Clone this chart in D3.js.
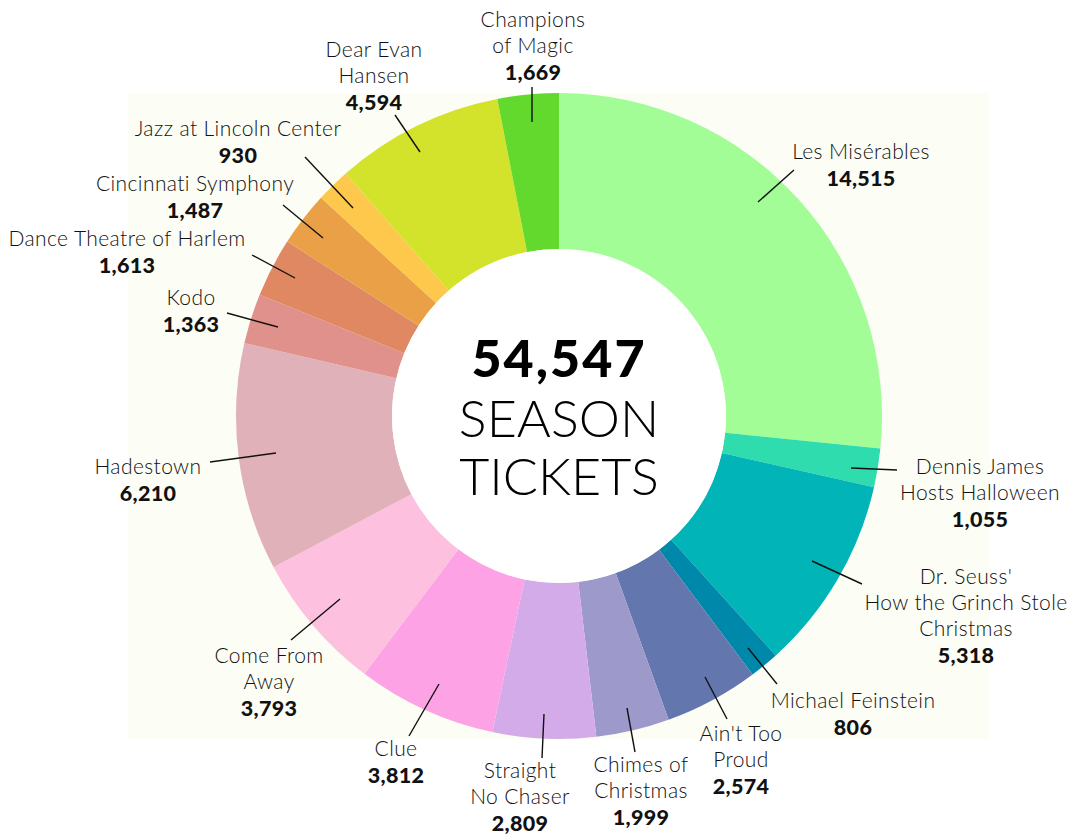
<!DOCTYPE html>
<html>
<head>
<meta charset="utf-8">
<script src="https://cdn.jsdelivr.net/npm/d3@7"></script>
<style>
  html, body { margin: 0; padding: 0; background: #fff; }
  svg { display: block; font-family: Lato, "Open Sans", sans-serif; }
</style>
</head>
<body>
<svg id="chart"></svg>
<script>
// Shows in clockwise order, starting at 12 o'clock
const shows = [
  "Les Misérables", "Dennis James\nHosts Halloween", "Dr. Seuss'\nHow the Grinch Stole\nChristmas",
  "Michael Feinstein", "Ain't Too\nProud", "Chimes of\nChristmas", "Straight\nNo Chaser", "Clue",
  "Come From\nAway", "Hadestown", "Kodo", "Dance Theatre of Harlem", "Cincinnati Symphony",
  "Jazz at Lincoln Center", "Dear Evan\nHansen", "Champions\nof Magic"
];
const tickets = [14515, 1055, 5318, 806, 2574, 1999, 2809, 3812, 3793, 6210, 1363, 1613, 1487, 930, 4594, 1669];
const colors = [
  "#a2fd97", "#2edcae", "#00b4b7", "#0088ab", "#6377ae", "#9e99cb", "#d3abe8", "#fda3e5",
  "#fdc0de", "#e1b1b9", "#e1918b", "#e08862", "#eaa047", "#fdc84b", "#d3e32b", "#63d92e"
];

// label anchor (centre of first line baseline) and leader line ends, per show
const labelLayout = [
  { x: 861, y: 159, line: [758, 202, 794, 170] },
  { x: 980, y: 474, line: [851, 468, 897, 470] },
  { x: 966, y: 584, line: [812, 561, 862, 584] },
  { x: 853, y: 708, line: [748, 648, 777, 684] },
  { x: 741, y: 741, line: [705, 677, 727, 719] },
  { x: 641, y: 772, line: [627, 708, 635, 752] },
  { x: 520, y: 778, line: [544, 714, 542, 758] },
  { x: 396, y: 756, line: [439, 684, 409, 736] },
  { x: 269, y: 663, line: [340, 599, 291, 640] },
  { x: 148, y: 474, line: [276, 453, 210, 462] },
  { x: 191, y: 305, line: [278, 327, 227, 313] },
  { x: 127, y: 246, line: [295, 278, 252, 255] },
  { x: 195, y: 191, line: [323, 238, 283, 205] },
  { x: 238, y: 136, line: [353, 208, 305, 157] },
  { x: 374, y: 57,  line: [420, 152, 395, 115] },
  { x: 533, y: 27,  line: [532, 122, 532, 87] }
];

const width = 1084, height = 835;
const cx = 559, cy = 416, outerR = 323, innerR = 167;
const lineH = 26;

const data = shows.map((name, i) => ({ name, value: tickets[i], color: colors[i], layout: labelLayout[i] }));
const total = d3.sum(tickets);

const svg = d3.select('#chart')
  .attr('width', width)
  .attr('height', height)
  .attr('viewBox', `0 0 ${width} ${height}`);

// pale panel behind the donut
svg.append('rect')
  .attr('x', 128).attr('y', cy - outerR)
  .attr('width', 862).attr('height', outerR * 2)
  .attr('fill', '#fcfdf5');

const pie = d3.pie().sort(null).value(d => d.value);
const arc = d3.arc().innerRadius(innerR).outerRadius(outerR);

const g = svg.append('g').attr('transform', `translate(${cx}, ${cy})`);

g.selectAll('path')
  .data(pie(data))
  .join('path')
  .attr('d', arc)
  .attr('fill', d => d.data.color);

// white hole
g.append('circle').attr('r', innerR).attr('fill', '#fff');

// leader lines
svg.append('g')
  .selectAll('line')
  .data(data)
  .join('line')
  .attr('x1', d => d.layout.line[0]).attr('y1', d => d.layout.line[1])
  .attr('x2', d => d.layout.line[2]).attr('y2', d => d.layout.line[3])
  .attr('stroke', '#111')
  .attr('stroke-width', 1.4);

// labels
const fmt = d3.format(',');
const labels = svg.append('g').selectAll('text')
  .data(data)
  .join('text')
  .attr('text-anchor', 'middle')
  .attr('fill', '#111');

labels.each(function(d) {
  const t = d3.select(this);
  const lines = d.name.split('\n');
  lines.forEach((ln, i) => {
    t.append('tspan')
      .attr('x', d.layout.x)
      .attr('y', d.layout.y + i * lineH)
      .attr('font-size', '21px')
      .attr('font-weight', 300)
      .attr('letter-spacing', '0.4px')
      .text(ln);
  });
  t.append('tspan')
    .attr('x', d.layout.x)
    .attr('y', d.layout.y + lines.length * lineH + 1)
    .attr('font-size', '21.5px')
    .attr('font-weight', 900)
    .attr('letter-spacing', '0.3px')
    .text(fmt(d.value));
});

// centre total
const centre = svg.append('g').attr('text-anchor', 'middle').attr('fill', '#000');
centre.append('text')
  .attr('x', cx).attr('y', 377)
  .attr('font-size', '52px')
  .attr('font-weight', 900)
  .attr('letter-spacing', '2px')
  .text(fmt(total));
centre.append('text')
  .attr('x', cx).attr('y', 437)
  .attr('font-size', '52px')
  .attr('font-weight', 300)
  .text('SEASON');
centre.append('text')
  .attr('x', cx).attr('y', 495)
  .attr('font-size', '52px')
  .attr('font-weight', 300)
  .text('TICKETS');
</script>
</body>
</html>
